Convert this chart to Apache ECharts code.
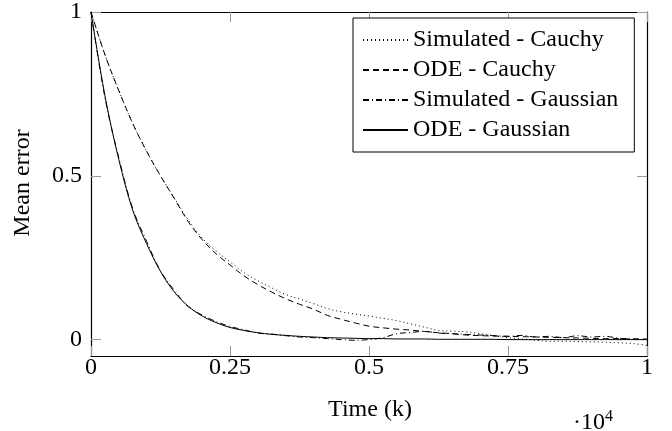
<!DOCTYPE html>
<html>
<head>
<meta charset="utf-8">
<script src="https://cdn.jsdelivr.net/npm/echarts@6/dist/echarts.min.js"></script>
<style>
html,body{margin:0;padding:0;background:#fff;}
#c{width:672px;height:431px;}
</style>
</head>
<body>
<div id="c"></div>
<script>
// Sample times (k)
const times = [0,250,500,750,1000,1250,1500,1750,2000,2250,2500,2750,3000,3250,3500,3750,4000,4250,4500,4750,5000,5250,5500,5750,6000,6250,6500,6750,7000,7250,7500,7750,8000,8250,8500,8750,9000,9250,9500,9750,10000];

const simCauchy = [1.0,0.87,0.76,0.66,0.575,0.50,0.432,0.365,0.31,0.27,0.237,0.205,0.18,0.158,0.138,0.124,0.11,0.095,0.085,0.078,0.072,0.065,0.058,0.048,0.038,0.028,0.026,0.024,0.018,0.012,0.006,0.002,-0.002,-0.005,-0.005,-0.006,-0.007,-0.008,-0.01,-0.012,-0.018];
const odeCauchy = [1.0,0.87,0.76,0.66,0.575,0.50,0.43,0.36,0.305,0.262,0.228,0.195,0.168,0.145,0.125,0.108,0.093,0.074,0.062,0.051,0.041,0.036,0.032,0.029,0.025,0.021,0.018,0.014,0.012,0.011,0.01,0.009,0.008,0.007,0.006,0.005,0.004,0.003,0.003,0.002,0.002];
const simGauss = [1.0,0.74,0.555,0.40,0.30,0.21,0.15,0.10,0.075,0.055,0.04,0.03,0.02,0.017,0.012,0.008,0.006,0.003,0.0,-0.002,0.0,0.006,0.018,0.022,0.025,0.02,0.018,0.016,0.014,0.012,0.01,0.013,0.008,0.01,0.006,0.012,0.008,0.01,0.004,0.002,0.0];
const odeGauss = [1.0,0.745,0.55,0.395,0.293,0.208,0.145,0.102,0.072,0.052,0.037,0.028,0.021,0.016,0.013,0.010,0.008,0.006,0.005,0.004,0.003,0.003,0.002,0.002,0.002,0.001,0.001,0.001,0.001,0.001,0.0,0.0,0.0,0.0,0.0,0.0,0.0,0.0,0.0,0.0,0.0];

const seriesNames = ['Simulated - Cauchy','ODE - Cauchy','Simulated - Gaussian','ODE - Gaussian'];
const xTicks = [0,2500,5000,7500,10000];
const xTickLabels = ['0','0.25','0.5','0.75','1'];
const yTicks = [0,0.5,1];
const yTickLabels = ['0','0.5','1'];

const FONT = 'Liberation Serif';
const dashes = [[1,3],[6,4],[6,3,1,3],'solid'];
const values = [simCauchy, odeCauchy, simGauss, odeGauss];

const chart = echarts.init(document.getElementById('c'), null, {renderer:'canvas'});

const tickStyle = {show:true, inside:true, length:10, lineStyle:{color:'#9a9a9a', width:1}};
const axisLine = {show:true, onZero:false, lineStyle:{color:'#000', width:1.2}};

const option = {
  animation:false,
  backgroundColor:'#fff',
  textStyle:{fontFamily:FONT},
  grid:{left:91, right:25, top:10.5, bottom:75},
  legend:{
    orient:'vertical',
    left:353, top:18,
    padding:[10,16,10,9],
    itemGap:6,
    itemWidth:45, itemHeight:14,
    borderColor:'#000', borderWidth:1,
    backgroundColor:'#fff',
    itemStyle:{opacity:0},
    textStyle:{fontFamily:FONT, fontSize:24, color:'#000', lineHeight:24},
    data:seriesNames
  },
  xAxis:[{
    type:'value', min:0, max:10000, interval:2500, position:'bottom',
    axisLine:axisLine,
    axisTick:Object.assign({}, tickStyle, {customValues:xTicks}),
    splitLine:{show:false},
    axisLabel:{
      customValues:xTicks,
      margin:2, lineHeight:20, fontFamily:FONT, fontSize:24, color:'#000',
      formatter:function(v){ return xTickLabels[xTicks.indexOf(v)]; }
    }
  },{
    type:'value', min:0, max:10000, interval:2500, position:'top',
    axisLine:axisLine,
    axisTick:Object.assign({}, tickStyle, {customValues:xTicks}),
    splitLine:{show:false}, axisLabel:{show:false}
  }],
  yAxis:[{
    type:'value', min:-0.05, max:1, position:'left',
    axisLine:axisLine,
    axisTick:Object.assign({}, tickStyle, {customValues:yTicks}),
    splitLine:{show:false},
    axisLabel:{
      customValues:yTicks,
      margin:9, fontFamily:FONT, fontSize:24, color:'#000',
      formatter:function(v){ const i = yTicks.findIndex(t=>Math.abs(t-v)<1e-9); return i>=0 ? yTickLabels[i] : ''; }
    }
  },{
    type:'value', min:-0.05, max:1, position:'right',
    axisLine:axisLine,
    axisTick:Object.assign({}, tickStyle, {customValues:yTicks}),
    splitLine:{show:false}, axisLabel:{show:false}
  }],
  series: seriesNames.map(function(name, i){
    return {
      name:name, type:'line', xAxisIndex:0, yAxisIndex:0,
      data: times.map(function(t, j){ return [t, values[i][j]]; }),
      showSymbol:false, symbol:'none', smooth:0.35,
      lineStyle:{color:'#000', width:1, type:dashes[i]},
      itemStyle:{color:'#000'},
      z: 3 - i
    };
  }),
  graphic:[
    {type:'text', x:23, y:183, rotation:Math.PI/2,
     style:{text:'Mean error', font:'24px "Liberation Serif"', fill:'#000', align:'center', verticalAlign:'middle'}},
    {type:'text', x:370, y:410,
     style:{text:'Time (k)', font:'24px "Liberation Serif"', fill:'#000', align:'center', verticalAlign:'middle'}},
    {type:'text', x:573, y:409,
     style:{text:'{a|·10}{b|4}', fill:'#000', align:'left', verticalAlign:'top',
       rich:{a:{fontFamily:FONT, fontSize:24, verticalAlign:'bottom', lineHeight:26},
             b:{fontFamily:FONT, fontSize:16, verticalAlign:'top', lineHeight:26}}}}
  ]
};
chart.setOption(option);
</script>
</body>
</html>
